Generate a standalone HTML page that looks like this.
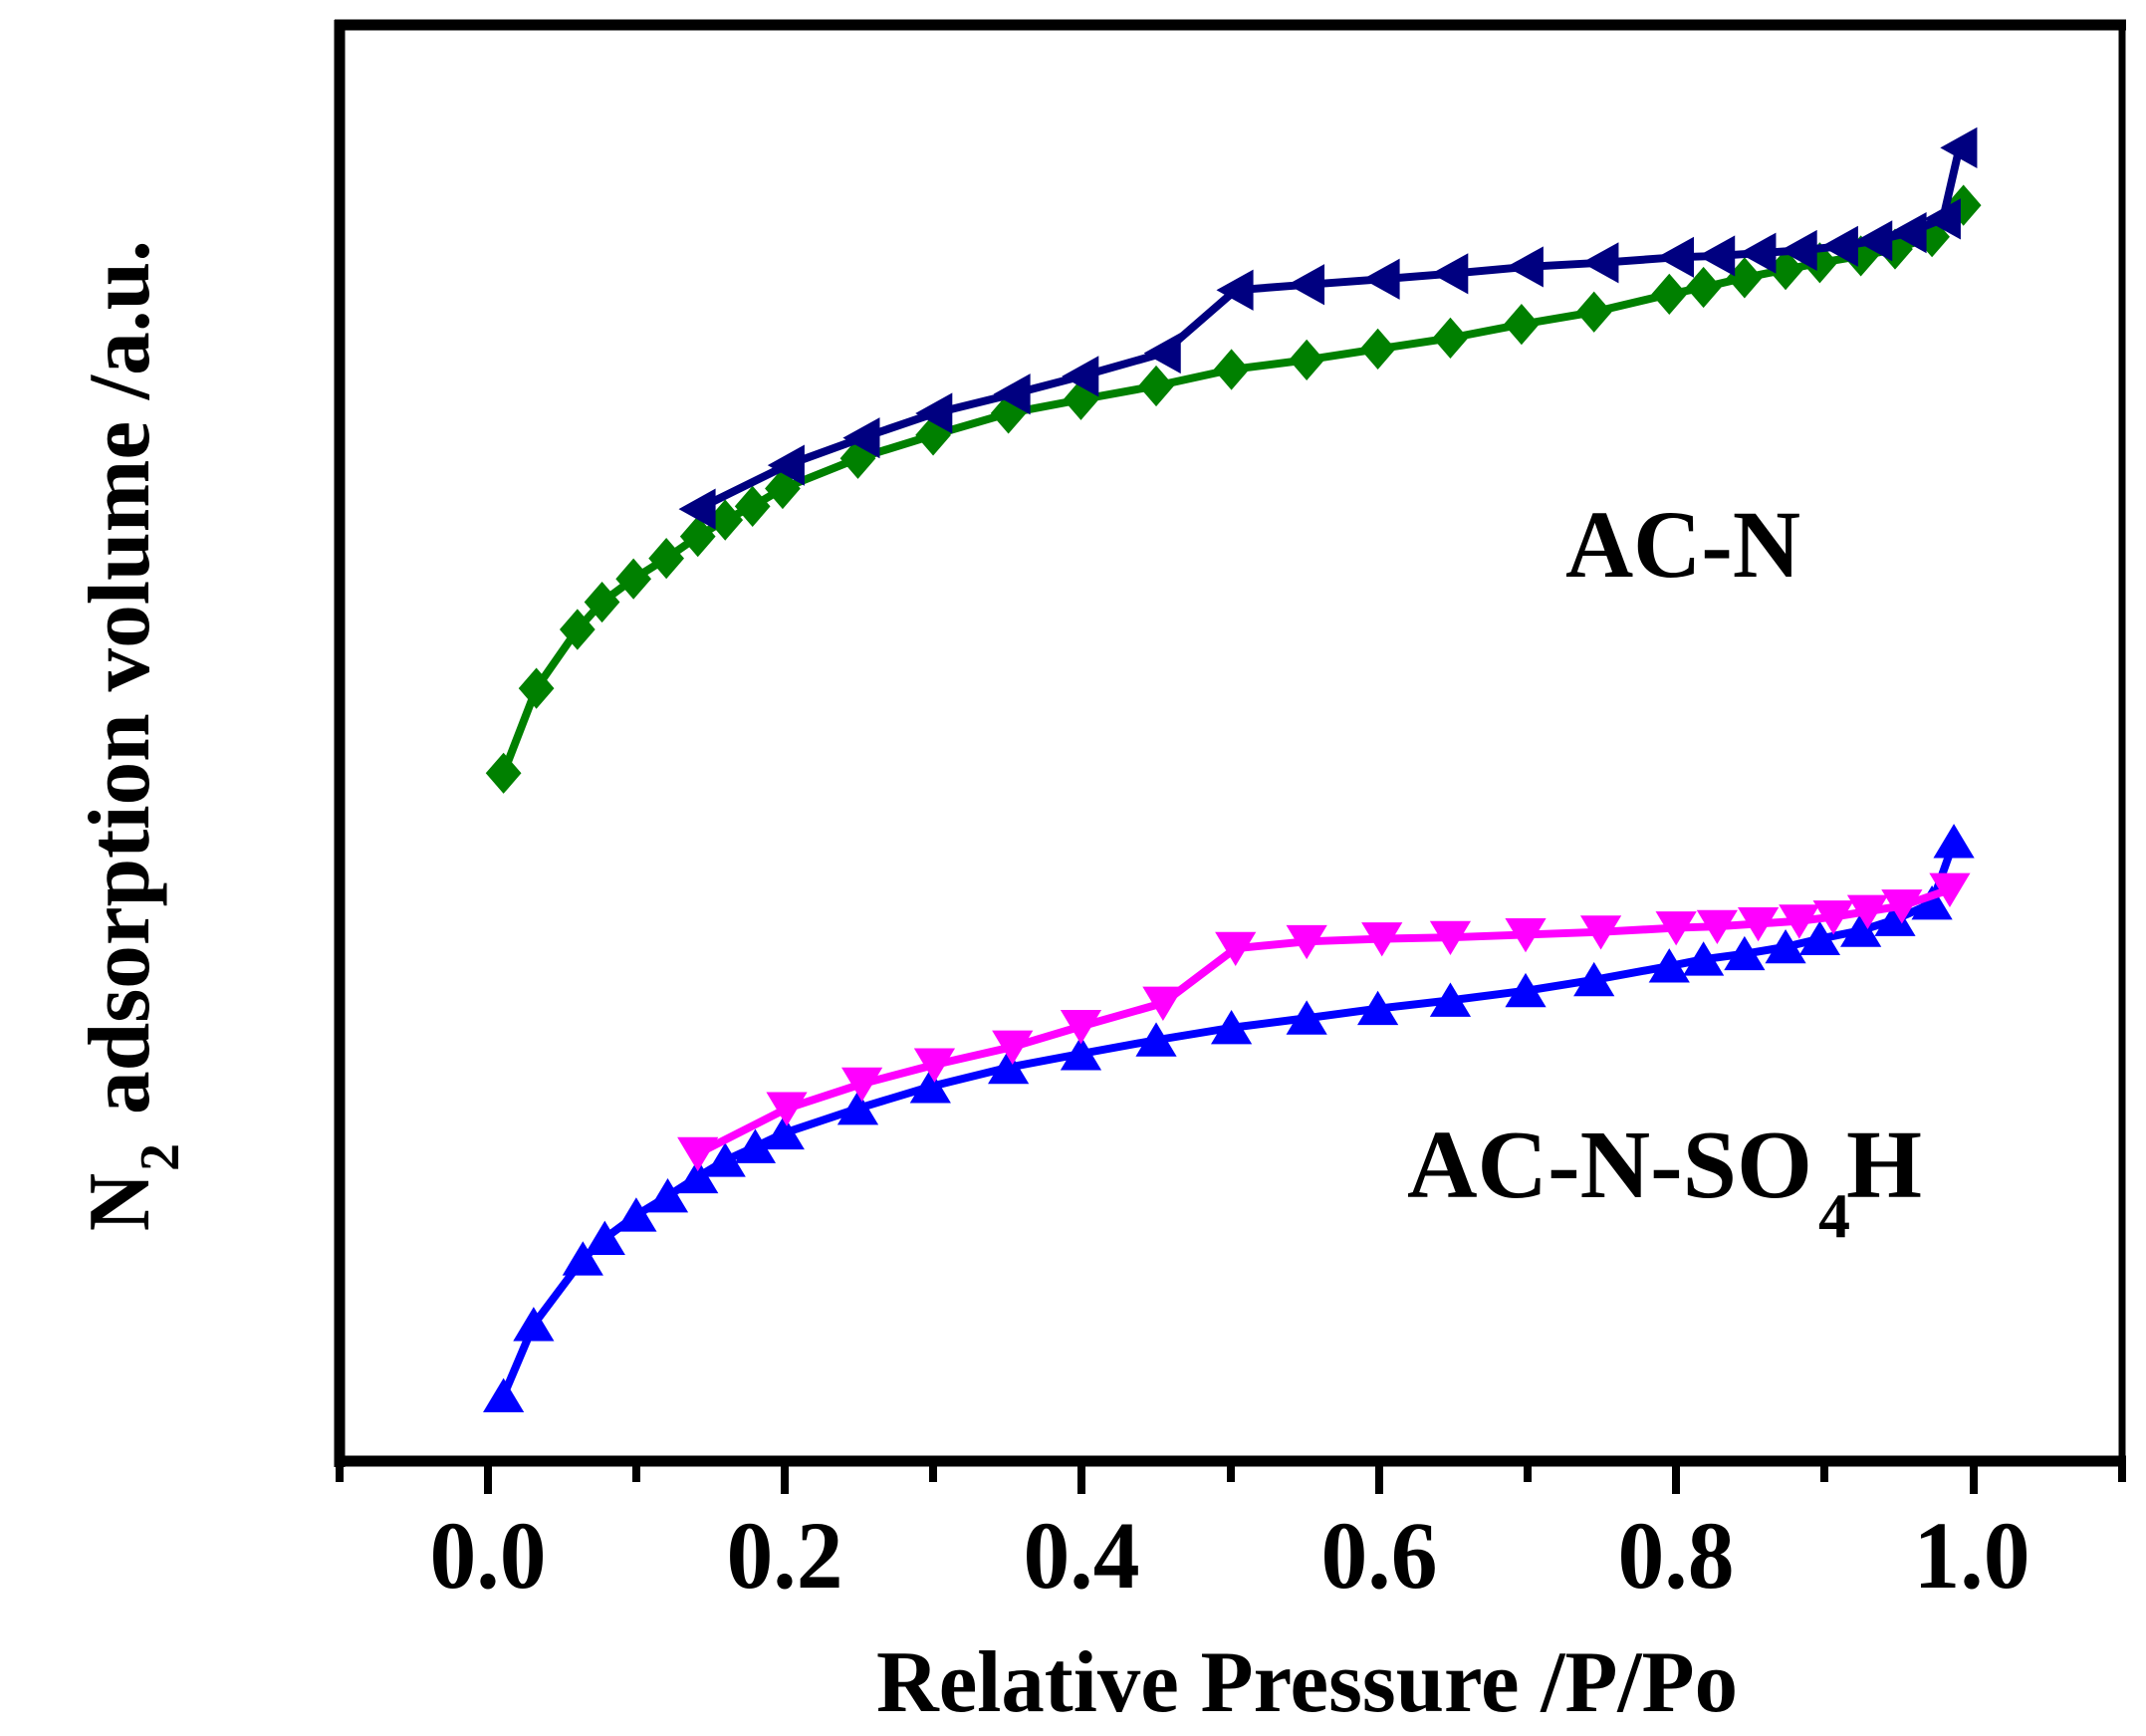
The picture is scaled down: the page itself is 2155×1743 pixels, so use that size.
<!DOCTYPE html>
<html><head><meta charset="utf-8"><style>
html,body{margin:0;padding:0;background:#fff;}
svg{display:block;}
text{font-family:"Liberation Serif",serif;font-weight:bold;fill:#000;}
</style></head><body>
<svg width="2155" height="1743" viewBox="0 0 2155 1743" xmlns="http://www.w3.org/2000/svg">
<defs>
<marker id="dia" markerUnits="userSpaceOnUse" markerWidth="40" markerHeight="40" refX="20" refY="20" viewBox="0 0 40 40" overflow="visible"><path d="M20 5 L33 20 L20 35 L7 20Z" fill="#008000"/></marker>
<marker id="lt" markerUnits="userSpaceOnUse" markerWidth="40" markerHeight="40" refX="20" refY="20" viewBox="0 0 40 40" overflow="visible"><path d="M6 20 L33 5 L33 35Z" fill="#000080"/></marker>
<marker id="up" markerUnits="userSpaceOnUse" markerWidth="40" markerHeight="40" refX="20" refY="20" viewBox="0 0 40 40" overflow="visible"><path d="M20 7 L35 32 L5 32Z" fill="#0000ff"/></marker>
<marker id="dn" markerUnits="userSpaceOnUse" markerWidth="40" markerHeight="40" refX="20" refY="20" viewBox="0 0 40 40" overflow="visible"><path d="M5 8 L35 8 L20 33Z" fill="#ff00ff"/></marker>
</defs>
<rect width="2155" height="1743" fill="#fff"/>
<!-- frame -->
<line x1="341" y1="20" x2="341" y2="1473" stroke="#000" stroke-width="11"/>
<line x1="336" y1="25" x2="2135" y2="25" stroke="#000" stroke-width="11"/>
<line x1="2131" y1="20" x2="2131" y2="1470" stroke="#000" stroke-width="7"/>
<line x1="336" y1="1467" x2="2135" y2="1467" stroke="#000" stroke-width="11"/>
<g stroke="#000" stroke-width="8">
<line x1="341" y1="1470" x2="341" y2="1488"/>
<line x1="490" y1="1470" x2="490" y2="1500"/>
<line x1="639" y1="1470" x2="639" y2="1488"/>
<line x1="788" y1="1470" x2="788" y2="1500"/>
<line x1="937" y1="1470" x2="937" y2="1488"/>
<line x1="1086" y1="1470" x2="1086" y2="1500"/>
<line x1="1236" y1="1470" x2="1236" y2="1488"/>
<line x1="1385" y1="1470" x2="1385" y2="1500"/>
<line x1="1534" y1="1470" x2="1534" y2="1488"/>
<line x1="1683" y1="1470" x2="1683" y2="1500"/>
<line x1="1832" y1="1470" x2="1832" y2="1488"/>
<line x1="1982" y1="1470" x2="1982" y2="1500"/>
<line x1="2131" y1="1470" x2="2131" y2="1488"/>
</g>
<g font-size="96" text-anchor="middle">
<text x="490" y="1594" textLength="117" lengthAdjust="spacingAndGlyphs">0.0</text>
<text x="788" y="1594" textLength="117" lengthAdjust="spacingAndGlyphs">0.2</text>
<text x="1086" y="1594" textLength="117" lengthAdjust="spacingAndGlyphs">0.4</text>
<text x="1385" y="1594" textLength="117" lengthAdjust="spacingAndGlyphs">0.6</text>
<text x="1683" y="1594" textLength="117" lengthAdjust="spacingAndGlyphs">0.8</text>
<text x="1980" y="1594" textLength="117" lengthAdjust="spacingAndGlyphs">1.0</text>
</g>
<text x="880" y="1718" font-size="88" textLength="865" lengthAdjust="spacingAndGlyphs">Relative Pressure /P/Po</text>
<!-- y label -->
<g transform="translate(149,1236) rotate(-90)">
<text x="0" y="0" font-size="88" textLength="58" lengthAdjust="spacingAndGlyphs">N</text>
<text x="60" y="30" font-size="56">2</text>
<text x="117" y="0" font-size="88" textLength="878" lengthAdjust="spacingAndGlyphs">adsorption volume /a.u.</text>
</g>
<text x="1572" y="579" font-size="96" textLength="236" lengthAdjust="spacingAndGlyphs">AC-N</text>
<text x="1413" y="1202" font-size="98" textLength="407" lengthAdjust="spacingAndGlyphs">AC-N-SO</text>
<text x="1826" y="1242" font-size="64">4</text>
<text x="1854" y="1202" font-size="98" textLength="76" lengthAdjust="spacingAndGlyphs">H</text>
<!-- data -->
<g transform="scale(1.374)" fill="none" stroke-width="5.8" stroke-linejoin="round">
<polyline stroke="#008000" marker-start="url(#dia)" marker-mid="url(#dia)" marker-end="url(#dia)" points="368,565 392,503 422,460 440,440 463,423 487,408 510,392 530,380 550,370 572,357 627,335 682,318 737,302 790,292 845,282 900,270 955,263 1007,255 1060,247 1112,237 1165,228 1220,215 1245,210 1275,203 1305,197 1330,192 1360,187 1385,182 1412,173 1435,150"/>
<polyline stroke="#000080" marker-start="url(#lt)" marker-mid="url(#lt)" marker-end="url(#lt)" points="1432,108 1420,160 1395,170 1370,176 1345,180 1315,183 1285,185 1255,187 1225,188 1170,192 1115,195 1060,200 1010,204 955,208 903,212 850,258 790,275 740,288 683,302 630,320 575,340 510,372"/>
<polyline stroke="#0000ff" marker-start="url(#up)" marker-mid="url(#up)" marker-end="url(#up)" points="368,1020 390,968 426,920 442,905 465,888 488,874 510,860 530,848 552,838 573,828 627,810 680,794 737,780 790,770 845,760 900,751 955,744 1007,737 1060,731 1115,724 1165,716 1220,706 1245,701 1275,697 1305,692 1330,686 1360,680 1385,672 1412,660 1428,615"/>
<polyline stroke="#ff00ff" marker-start="url(#dn)" marker-mid="url(#dn)" marker-end="url(#dn)" points="1425,650 1390,662 1365,666 1340,670 1315,673 1285,675 1255,677 1225,678 1170,681 1115,683 1060,685 1010,686 955,688 903,693 850,733 790,750 740,765 683,778 630,792 575,810 510,843"/>
</g>
</svg>
</body></html>
